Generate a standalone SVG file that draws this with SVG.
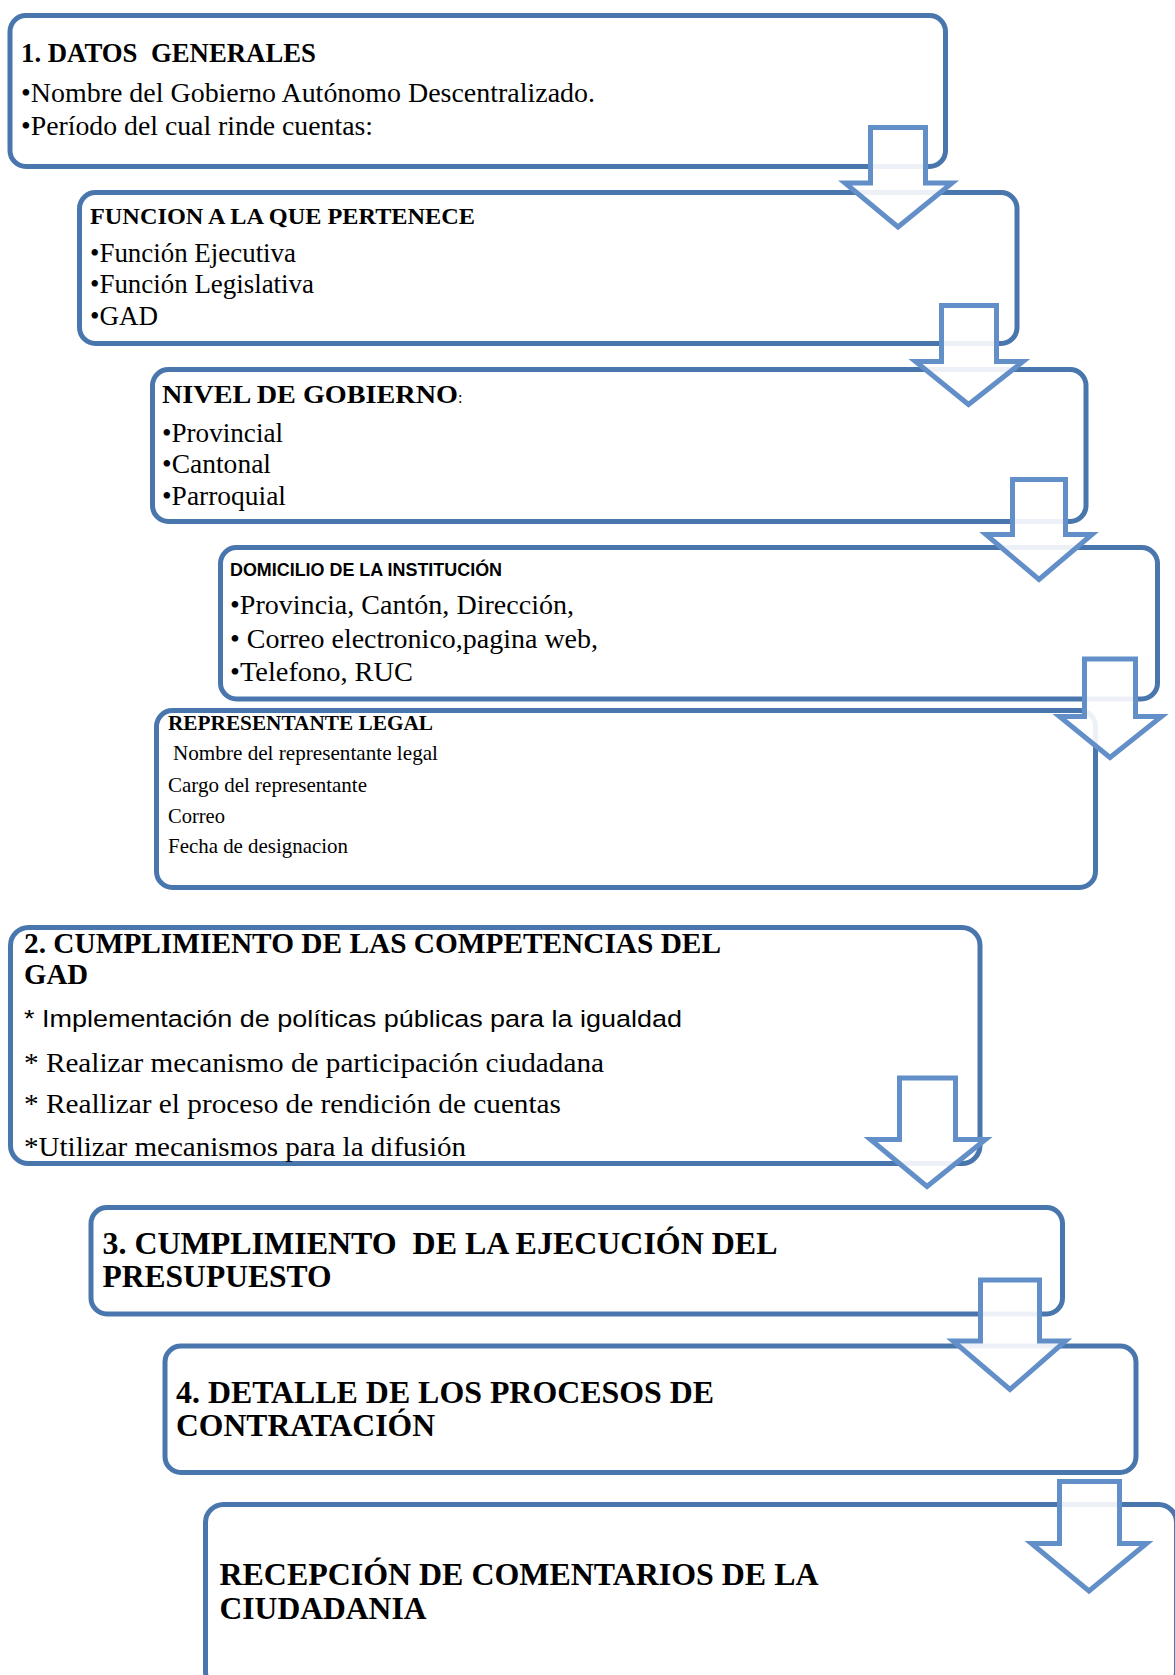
<svg xmlns="http://www.w3.org/2000/svg" width="1175" height="1675" viewBox="0 0 1175 1675">
<style>
.box{fill:#ffffff;stroke:#4a76ae;stroke-width:5}
.arr{fill:#ffffff;fill-opacity:0.9;stroke:#638fc9;stroke-width:5;stroke-linejoin:miter}
text{fill:#000000;white-space:pre}
.t{font-family:"Liberation Serif","Times New Roman",serif}
.b{font-family:"Liberation Serif","Times New Roman",serif;font-weight:bold}
.s{font-family:"Liberation Sans",Arial,sans-serif}
.sb{font-family:"Liberation Sans",Arial,sans-serif;font-weight:bold}
</style>
<rect width="1175" height="1675" fill="#ffffff"/>
<g id="node1">
<rect class="box" x="10" y="15.5" width="935.5" height="151" rx="16"/>
<text class="b" x="21" y="62" font-size="26.5" textLength="295" lengthAdjust="spacingAndGlyphs" xml:space="preserve">1. DATOS  GENERALES</text>
<text class="t" x="21" y="102" font-size="27" textLength="574" lengthAdjust="spacingAndGlyphs">•Nombre del Gobierno Autónomo Descentralizado.</text>
<text class="t" x="21" y="135" font-size="27" textLength="352" lengthAdjust="spacingAndGlyphs">•Período del cual rinde cuentas:</text>
</g>
<g id="node2">
<rect class="box" x="79.5" y="192.5" width="937.5" height="151" rx="16"/>
<text class="b" x="90" y="224" font-size="24" textLength="385" lengthAdjust="spacingAndGlyphs">FUNCION A LA QUE PERTENECE</text>
<text class="t" x="90" y="262" font-size="26.5" textLength="206" lengthAdjust="spacingAndGlyphs">•Función Ejecutiva</text>
<text class="t" x="90" y="293" font-size="26.5" textLength="224" lengthAdjust="spacingAndGlyphs">•Función Legislativa</text>
<text class="t" x="90" y="325" font-size="26.5" textLength="68" lengthAdjust="spacingAndGlyphs">•GAD</text>
</g>
<g id="node3">
<rect class="box" x="152.5" y="369.5" width="933.5" height="152" rx="16"/>
<text x="162" y="402.5"><tspan class="b" font-size="26" textLength="296" lengthAdjust="spacingAndGlyphs">NIVEL DE GOBIERNO</tspan><tspan class="t" font-size="16">:</tspan></text>
<text class="t" x="162" y="442" font-size="26.5" textLength="121" lengthAdjust="spacingAndGlyphs">•Provincial</text>
<text class="t" x="162" y="473" font-size="26.5" textLength="109" lengthAdjust="spacingAndGlyphs">•Cantonal</text>
<text class="t" x="162" y="504.5" font-size="26.5" textLength="124" lengthAdjust="spacingAndGlyphs">•Parroquial</text>
</g>
<g id="node4">
<rect class="box" x="220.5" y="547.5" width="937" height="151.5" rx="16"/>
<text class="sb" x="230" y="576" font-size="18" textLength="272" lengthAdjust="spacingAndGlyphs">DOMICILIO DE LA INSTITUCIÓN</text>
<text class="t" x="230" y="614" font-size="27.5" textLength="344" lengthAdjust="spacingAndGlyphs">•Provincia, Cantón, Dirección,</text>
<text class="t" x="230" y="648" font-size="27.5" textLength="368" lengthAdjust="spacingAndGlyphs">• Correo electronico,pagina web,</text>
<text class="t" x="230" y="680.5" font-size="27.5" textLength="183" lengthAdjust="spacingAndGlyphs">•Telefono, RUC</text>
</g>
<g id="node5">
<rect class="box" x="156.5" y="710.5" width="939" height="177" rx="16"/>
<text class="b" x="168" y="730" font-size="21" textLength="265" lengthAdjust="spacingAndGlyphs">REPRESENTANTE LEGAL</text>
<text class="t" x="173" y="760" font-size="21" textLength="265" lengthAdjust="spacingAndGlyphs">Nombre del representante legal</text>
<text class="t" x="168" y="791.5" font-size="21" textLength="199" lengthAdjust="spacingAndGlyphs">Cargo del representante</text>
<text class="t" x="168" y="822.5" font-size="21" textLength="57" lengthAdjust="spacingAndGlyphs">Correo</text>
<text class="t" x="168" y="853" font-size="21" textLength="180" lengthAdjust="spacingAndGlyphs">Fecha de designacion</text>
</g>
<g id="node6">
<rect class="box" x="10.5" y="927.5" width="969.5" height="236" rx="18"/>
<text class="b" x="24" y="953" font-size="29.5" textLength="697" lengthAdjust="spacingAndGlyphs">2. CUMPLIMIENTO DE LAS COMPETENCIAS DEL</text>
<text class="b" x="24" y="984" font-size="29.5" textLength="64" lengthAdjust="spacingAndGlyphs">GAD</text>
<text class="s" x="24" y="1026.5" font-size="24.5" textLength="658" lengthAdjust="spacingAndGlyphs">* Implementación de políticas públicas para la igualdad</text>
<text class="t" x="24" y="1072" font-size="26.5" textLength="580" lengthAdjust="spacingAndGlyphs">* Realizar mecanismo de participación ciudadana</text>
<text class="t" x="24" y="1113" font-size="26.5" textLength="537" lengthAdjust="spacingAndGlyphs">* Reallizar el proceso de rendición de cuentas</text>
<text class="t" x="24" y="1155.5" font-size="26.5" textLength="442" lengthAdjust="spacingAndGlyphs">*Utilizar mecanismos para la difusión</text>
</g>
<g id="node7">
<rect class="box" x="91" y="1207.5" width="971.5" height="106.5" rx="16"/>
<text class="b" x="102.5" y="1254" font-size="30.5" textLength="675" lengthAdjust="spacingAndGlyphs" xml:space="preserve">3. CUMPLIMIENTO  DE LA EJECUCIÓN DEL</text>
<text class="b" x="102.5" y="1287" font-size="30.5" textLength="229" lengthAdjust="spacingAndGlyphs">PRESUPUESTO</text>
</g>
<g id="node8">
<rect class="box" x="165" y="1346" width="971" height="126.5" rx="16"/>
<text class="b" x="176" y="1403" font-size="30.5" textLength="538" lengthAdjust="spacingAndGlyphs">4. DETALLE DE LOS PROCESOS DE</text>
<text class="b" x="176" y="1436" font-size="30.5" textLength="259" lengthAdjust="spacingAndGlyphs">CONTRATACIÓN</text>
</g>
<g id="node9">
<rect class="box" x="205.5" y="1504.5" width="971" height="185" rx="18"/>
<text class="b" x="219.5" y="1585" font-size="30.5" textLength="599" lengthAdjust="spacingAndGlyphs">RECEPCIÓN DE COMENTARIOS DE LA</text>
<text class="b" x="219.5" y="1618.5" font-size="30.5" textLength="207" lengthAdjust="spacingAndGlyphs">CIUDADANIA</text>
</g>
<g id="connectors">
<path class="arr" d="M870.5,127.5 H925.5 V183 H952 L898,227 L845,183 H870.5 Z"/>
<path class="arr" d="M941.5,305.5 H996.5 V361.5 H1023 L968.5,404.5 L915.5,361.5 H941.5 Z"/>
<path class="arr" d="M1012.5,479.5 H1065.5 V534.5 H1092 L1039,579.5 L986,534.5 H1012.5 Z"/>
<path class="arr" d="M1084.5,659 H1135.5 V716.5 H1161.5 L1110,757.5 L1059.5,716.5 H1084.5 Z"/>
<path class="arr" d="M899.5,1078 H955.5 V1139.5 H985.5 L927,1186.5 L870.5,1139.5 H899.5 Z"/>
<path class="arr" d="M980.5,1280 H1039.5 V1341 H1065.5 L1010,1389.5 L953,1341 H980.5 Z"/>
<path class="arr" d="M1059.5,1481.5 H1119.5 V1543.5 H1146.5 L1089,1591 L1031.5,1543.5 H1059.5 Z"/>
</g>
</svg>
